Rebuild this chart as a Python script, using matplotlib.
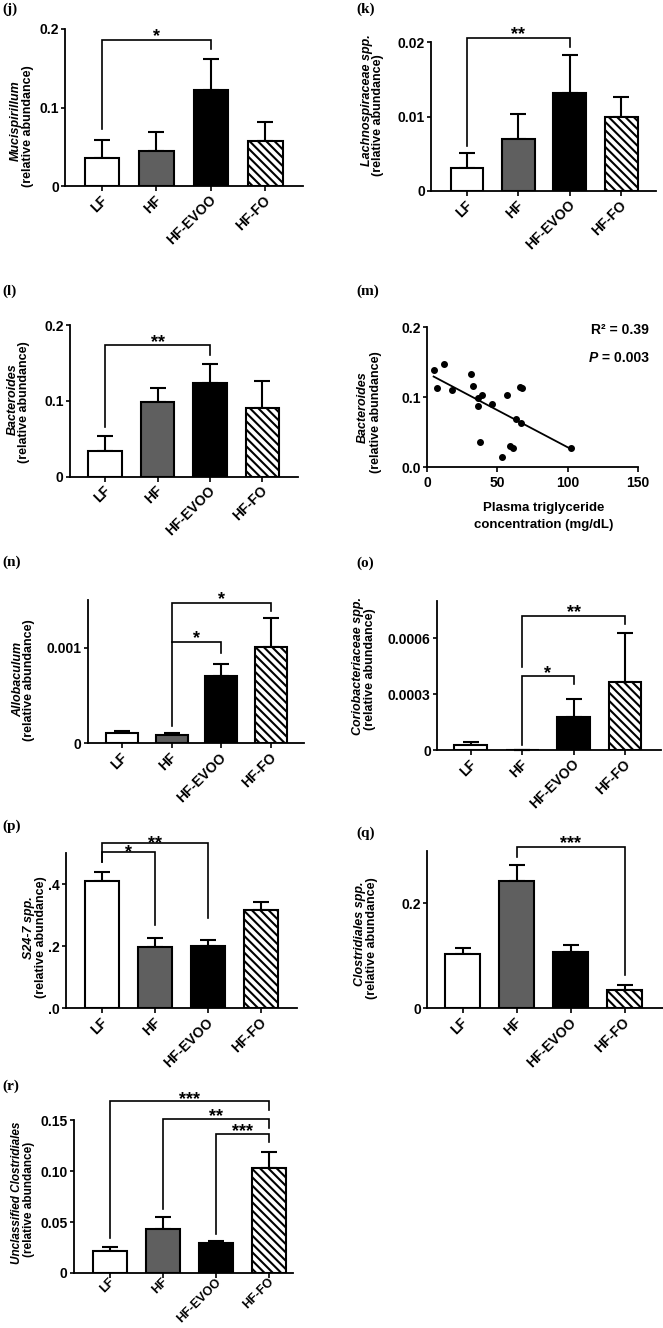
import numpy as np
import matplotlib
matplotlib.use('Agg')
import matplotlib.pyplot as plt
from matplotlib.transforms import ScaledTranslation

plt.rcParams['font.family'] = ['Liberation Sans', 'DejaVu Sans']
plt.rcParams['font.weight'] = 'bold'
plt.rcParams['hatch.linewidth'] = 1.5

W, H = 663, 1328
groups = ['LF', 'HF', 'HF-EVOO', 'HF-FO']

# ---- data (mean, upper SEM) ----
muc_mean = [0.036, 0.044, 0.122, 0.057]
muc_sem = [0.022, 0.025, 0.040, 0.025]
lach_mean = [0.0031, 0.0070, 0.0132, 0.0100]
lach_sem = [0.0020, 0.0033, 0.0050, 0.0026]
bact_mean = [0.034, 0.098, 0.124, 0.090]
bact_sem = [0.019, 0.019, 0.024, 0.036]
allo_mean = [0.000105, 0.000088, 0.000702, 0.00101]
allo_sem = [0.000023, 0.000021, 0.000123, 0.000306]
corio_mean = [0.000025, 0.0, 0.000178, 0.000365]
corio_sem = [0.000018, 0.0, 0.000097, 0.000263]
s247_mean = [0.410, 0.196, 0.200, 0.315]
s247_sem = [0.030, 0.031, 0.019, 0.028]
clos_mean = [0.1035, 0.243, 0.107, 0.035]
clos_sem = [0.0105, 0.029, 0.014, 0.009]
uncl_mean = [0.0213, 0.0429, 0.0298, 0.103]
uncl_sem = [0.0042, 0.0121, 0.0016, 0.0155]

# scatter (m)
tg = [4.7, 7.1, 12.3, 17.6, 31.3, 32.8, 36.3, 36.3, 38.9, 37.7,
      46.3, 56.7, 53.4, 59.1, 61.2, 63.6, 66.5, 66.2, 67.4, 102.1]
bact_rel = [0.139, 0.114, 0.148, 0.110, 0.133, 0.116, 0.099, 0.088, 0.103, 0.036,
            0.091, 0.104, 0.015, 0.030, 0.027, 0.069, 0.064, 0.115, 0.113, 0.027]

# significance brackets: (i, j, y_left_end, y_top, y_right_end, label)
muc_sig = [(0, 2, 0.073, 0.186, 0.175, '*')]
lach_sig = [(0, 2, 0.0061, 0.0206, 0.0193, '**')]
bact_sig = [(0, 2, 0.066, 0.173, 0.161, '**')]
allo_sig = [(1, 2, 0.000182, 0.00106, 0.000947, '*'),
            (1, 3, 0.00106, 0.00147, 0.00139, '*')]
corio_sig = [(1, 2, 0.000027, 0.000395, 0.000354, '*'),
             (1, 3, 0.000444, 0.000719, 0.000677, '**')]
s247_sig = [(0, 1, 0.470, 0.503, 0.267, '*'),
            (0, 2, 0.470, 0.533, 0.292, '**')]
clos_sig = [(1, 3, 0.288, 0.307, 0.063, '***')]
uncl_sig = [(0, 3, 0.0347, 0.1686, 0.1598, '***'),
            (1, 3, 0.0632, 0.1516, 0.1428, '**'),
            (2, 3, 0.038, 0.1369, 0.1287, '***')]

fig = plt.figure(figsize=(W / 100, H / 100), dpi=100)


def add_ax(x0, ytop, x1, ybot):
    return fig.add_axes([x0 / W, 1 - ybot / H, (x1 - x0) / W, (ybot - ytop) / H])


def style_axes(ax):
    for s in ['top', 'right']:
        ax.spines[s].set_visible(False)
    for s in ['left', 'bottom']:
        ax.spines[s].set_linewidth(1.3)
    ax.tick_params(axis='y', direction='out', length=3, width=1.2, labelsize=10, pad=1.5)
    ax.tick_params(axis='x', direction='out', length=3.6, width=1.2, labelsize=10)


def bar_panel(ax, means, sems, xlim, ylim, yticks, yticklabels, brackets, star_gap=-1,
              xpad=5.0, xsize=10):
    x = np.arange(len(groups))
    colors = ['white', '#5f5f5f', 'black', 'white']
    hatches = [None, None, None, '\\\\\\\\']
    ax.errorbar(x, means, yerr=[np.zeros(len(x)), sems], fmt='none', ecolor='black',
                elinewidth=1.5, capsize=6, capthick=1.5, zorder=1, clip_on=False)
    for i in range(len(x)):
        ax.bar(x[i], means[i], width=0.64, color=colors[i], edgecolor='black',
               linewidth=1.5, hatch=hatches[i], zorder=2)
    ax.set_xlim(*xlim)
    ax.set_ylim(*ylim)
    ax.set_yticks(yticks)
    ax.set_yticklabels(yticklabels)
    ax.set_xticks(x)
    ax.set_xticklabels(groups, rotation=45, ha='right', va='center', rotation_mode='anchor')
    style_axes(ax)
    ax.tick_params(axis='x', pad=xpad, labelsize=xsize)
    for lab in ax.get_xticklabels():
        lab.set_transform(lab.get_transform() + ScaledTranslation(0.03, 0, fig.dpi_scale_trans))
    for (i, j, yl, yt, yr, s) in brackets:
        ax.plot([i, i, j, j], [yl, yt, yt, yr], color='black', lw=1.2, clip_on=False,
                solid_joinstyle='miter')
        ax.annotate(s, xy=((i + j) / 2, yt), xytext=(0, star_gap), textcoords='offset points',
                    ha='center', va='baseline', fontsize=13, annotation_clip=False)


def ylabel(x, y, text, italic, size=9):
    fig.text(x / W, 1 - y / H, text, rotation=90, ha='center', va='center',
             fontsize=size, fontweight='bold', style='italic' if italic else 'normal')


def panel_label(x, y, text):
    fig.text(x / W, 1 - y / H, text, ha='left', va='center', fontsize=11,
             fontweight='bold', family='Liberation Serif')


# (j)
ax = add_ax(65, 29, 303, 186)
bar_panel(ax, muc_mean, muc_sem, (-0.68, 3.69), (0, 0.2), [0, 0.1, 0.2], ['0', '0.1', '0.2'], muc_sig)
ylabel(16, 121, 'Mucispirillum', True)
ylabel(27.5, 126, '(relative abundance)', False)
panel_label(2, 9, '(j)')

# (k)
ax = add_ax(431, 42, 656, 191)
bar_panel(ax, lach_mean, lach_sem, (-0.70, 3.68), (0, 0.02), [0, 0.01, 0.02], ['0', '0.01', '0.02'], lach_sig)
ylabel(367, 100, 'Lachnospiraceae spp.', True)
ylabel(378, 115, '(relative abundance)', False)
panel_label(356, 9, '(k)')

# (l)
ax = add_ax(70, 325, 298, 476.7)
bar_panel(ax, bact_mean, bact_sem, (-0.67, 3.68), (0, 0.2), [0, 0.1, 0.2], ['0', '0.1', '0.2'], bact_sig)
ylabel(12.5, 399, 'Bacteroides', True)
ylabel(24, 402, '(relative abundance)', False)
panel_label(2, 291, '(l)')

# (m) scatter
ax = add_ax(427, 327.3, 638, 467.3)
ax.scatter(tg, bact_rel, s=16, color='black', zorder=3, clip_on=False)
slope, intercept = np.polyfit(tg, bact_rel, 1)
xx = np.array([min(tg), max(tg)])
ax.plot(xx, slope * xx + intercept, color='black', lw=1.3)
ax.set_xlim(0, 150)
ax.set_ylim(0, 0.2)
ax.set_xticks([0, 50, 100, 150])
ax.set_yticks([0, 0.1, 0.2])
ax.set_yticklabels(['0.0', '0.1', '0.2'])
style_axes(ax)
ax.tick_params(axis='x', pad=3)
ylabel(363, 407, 'Bacteroides', True)
ylabel(376, 412, '(relative abundance)', False)
fig.text(544 / W, 1 - 508 / H, 'Plasma triglyceride', ha='center', va='center', fontsize=9.5, fontweight='bold')
fig.text(544 / W, 1 - 525 / H, 'concentration (mg/dL)', ha='center', va='center', fontsize=9.5, fontweight='bold')
fig.text(649 / W, 1 - 330 / H, 'R² = 0.39', ha='right', va='center', fontsize=10, fontweight='bold')
t = fig.text(649 / W, 1 - 358 / H, ' = 0.003', ha='right', va='center', fontsize=10, fontweight='bold')
ax.annotate('P', xy=(0, 0), xycoords=t, ha='right', va='bottom', fontsize=10,
            fontweight='bold', style='italic', annotation_clip=False)
panel_label(356, 291, '(m)')

# (n)
ax = add_ax(88, 600, 304, 743.3)
bar_panel(ax, allo_mean, allo_sem, (-0.68, 3.66), (0, 0.0015), [0, 0.001], ['0', '0.001'], allo_sig)
ylabel(18, 679, 'Allobaculum', True)
ylabel(29, 680, '(relative abundance)', False)
panel_label(2, 562, '(n)')

# (o)
ax = add_ax(437, 600.7, 661, 750)
bar_panel(ax, corio_mean, corio_sem, (-0.66, 3.70), (0, 0.0008), [0, 0.0003, 0.0006],
          ['0', '0.0003', '0.0006'], corio_sig)
ylabel(358, 666, 'Coriobacteriaceae spp.', True)
ylabel(370, 669, '(relative abundance)', False)
panel_label(356, 563, '(o)')

# (p)
ax = add_ax(66, 853, 297, 1008.3)
bar_panel(ax, s247_mean, s247_sem, (-0.68, 3.68), (0, 0.5), [0, 0.2, 0.4], ['.0', '.2', '.4'], s247_sig,
          star_gap=-3.5)
ylabel(29, 928, 'S24-7 spp.', True)
ylabel(41, 937, '(relative abundance)', False)
panel_label(2, 826, '(p)')

# (q)
ax = add_ax(427, 850.7, 663, 1008.3)
bar_panel(ax, clos_mean, clos_sem, (-0.66, 3.71), (0, 0.3), [0, 0.2], ['0', '0.2'], clos_sig)
ylabel(360, 934, 'Clostridiales spp.', True)
ylabel(372, 938, '(relative abundance)', False)
panel_label(356, 833, '(q)')

# (r)
ax = add_ax(74, 1120.3, 293, 1273)
bar_panel(ax, uncl_mean, uncl_sem, (-0.68, 3.45), (0, 0.15), [0, 0.05, 0.10, 0.15],
          ['0', '0.05', '0.10', '0.15'], uncl_sig, star_gap=-2, xpad=1.5, xsize=9)
ylabel(17.5, 1193, 'Unclassified Clostridiales', True, size=8.5)
ylabel(29, 1199, '(relative abundance)', False, size=8.5)
panel_label(2, 1086, '(r)')

fig.savefig('out.png', dpi=100)
